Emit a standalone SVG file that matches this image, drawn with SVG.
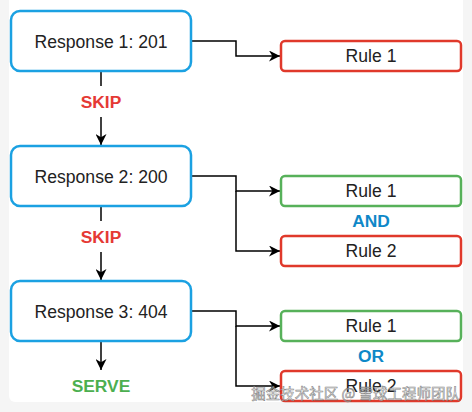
<svg xmlns="http://www.w3.org/2000/svg" width="472" height="412" viewBox="0 0 472 412">
<defs>
<marker id="arr" viewBox="0 0 10 10" refX="10" refY="5" markerWidth="11" markerHeight="11" markerUnits="userSpaceOnUse" orient="auto">
<path d="M0,0 L10,5 L0,10 L3,5 Z" fill="#000"/>
</marker>
<style>
.resp{fill:#fff;stroke:#1ba1e2;stroke-width:2.5}
.rr{fill:#fff;stroke:#e0392b;stroke-width:2.5}
.rg{fill:#fff;stroke:#57b15a;stroke-width:2.5}
.t{font-family:"Liberation Sans",Arial,sans-serif;font-size:17.6px;fill:#222;text-anchor:middle;dominant-baseline:central}
.lb{font-family:"Liberation Sans",Arial,sans-serif;font-size:17.4px;font-weight:bold;text-anchor:middle;dominant-baseline:central}
.c{fill:none;stroke:#000;stroke-width:1.5}
</style>
</defs>
<rect x="0" y="0" width="472" height="412" fill="#f5f5f5"/>
<rect x="9" y="-10" width="454" height="412" rx="6" fill="#fff"/>
<g id="connectors">
<path class="c" d="M191,41 H236 V56 H280" marker-end="url(#arr)"/>
<path class="c" d="M101,71 V86"/>
<path class="c" d="M101,117 V145" marker-end="url(#arr)"/>
<path class="c" d="M191,176 H236 V191 H280" marker-end="url(#arr)"/>
<path class="c" d="M236,191 V251 H280" marker-end="url(#arr)"/>
<path class="c" d="M101,206 V221"/>
<path class="c" d="M101,252 V280" marker-end="url(#arr)"/>
<path class="c" d="M191,311 H236 V326 H280" marker-end="url(#arr)"/>
<path class="c" d="M236,326 V386 H280" marker-end="url(#arr)"/>
<path class="c" d="M101,341 V370" marker-end="url(#arr)"/>
<text class="lb" x="101" y="102" fill="#e53935">SKIP</text>
<text class="lb" x="101" y="237" fill="#e53935">SKIP</text>
<text class="lb" x="101" y="386" fill="#4caf50">SERVE</text>
<text class="lb" x="371" y="221" fill="#0e88c8">AND</text>
<text class="lb" x="371" y="356" fill="#0e88c8">OR</text>
</g>
<g id="response1"><rect class="resp" x="11" y="11" width="180" height="60" rx="9"/><text class="t" x="101" y="42">Response 1: 201</text></g>
<g id="response2"><rect class="resp" x="11" y="146" width="180" height="60" rx="9"/><text class="t" x="101" y="177">Response 2: 200</text></g>
<g id="response3"><rect class="resp" x="11" y="281" width="180" height="60" rx="9"/><text class="t" x="101" y="312">Response 3: 404</text></g>
<g id="r1rule1"><rect class="rr" x="281" y="41" width="180" height="30" rx="4"/><text class="t" x="371" y="56">Rule 1</text></g>
<g id="r2rule1"><rect class="rg" x="281" y="176" width="180" height="30" rx="4"/><text class="t" x="371" y="191">Rule 1</text></g>
<g id="r2rule2"><rect class="rr" x="281" y="236" width="180" height="30" rx="4"/><text class="t" x="371" y="251">Rule 2</text></g>
<g id="r3rule1"><rect class="rg" x="281" y="311" width="180" height="30" rx="4"/><text class="t" x="371" y="326">Rule 1</text></g>
<g id="r3rule2"><rect class="rr" x="281" y="371" width="180" height="30" rx="4"/><text class="t" x="371" y="386">Rule 2</text></g>
<text x="460" y="399" text-anchor="end" font-family="'Noto Sans CJK SC',sans-serif" font-size="14.5" fill="#fff" fill-opacity="0.6" stroke="#666" stroke-width="0.6" stroke-opacity="0.8">掘金技术社区 @ 雪球工程师团队</text>
</svg>
